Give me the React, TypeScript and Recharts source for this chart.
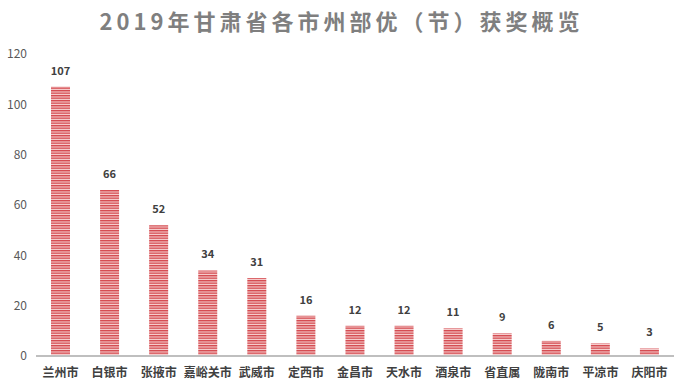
import { BarChart, Bar, XAxis, YAxis, LabelList } from 'recharts'

const cities = ['兰州市', '白银市', '张掖市', '嘉峪关市', '武威市', '定西市', '金昌市', '天水市', '酒泉市', '省直属', '陇南市', '平凉市', '庆阳市']
const awards = [107, 66, 52, 34, 31, 16, 12, 12, 11, 9, 6, 5, 3]
const yTicks = [0, 20, 40, 60, 80, 100, 120]

const data = cities.map((name, i) => ({ name, value: awards[i] }))

export default function App() {
  return (
    <div style={{ position: 'fixed', left: 0, top: 0, width: 683, height: 387, background: '#fff', fontFamily: '"Noto Sans CJK SC", "Noto Sans", sans-serif' }}>
      <div
        style={{
          position: 'absolute',
          left: 0,
          top: 4,
          width: 683,
          textAlign: 'center',
          fontSize: 22,
          fontWeight: 'bold',
          letterSpacing: 4,
          color: '#7f7f7f',
          lineHeight: '32px',
        }}
      >
        2019年甘肃省各市州部优（节）获奖概览
      </div>
      <BarChart width={683} height={387} data={data} margin={{ top: 54, right: 9, bottom: 1, left: 0 }}>
        <defs>
          <pattern id="stripes" width="4" height="2.5" patternUnits="userSpaceOnUse">
            <rect width="4" height="2.5" fill="#f7d4d4" />
            <rect width="4" height="1.4" fill="#d4494f" />
          </pattern>
        </defs>
        <XAxis
          dataKey="name"
          height={30}
          axisLine={{ stroke: '#bfbfbf', strokeWidth: 2 }}
          tickLine={false}
          interval={0}
          tick={{ fill: '#404040', fontSize: 12, fontWeight: 'bold' }}
          tickMargin={6}
        />
        <YAxis
          width={36}
          domain={[0, 120]}
          ticks={yTicks}
          axisLine={false}
          tickLine={false}
          tick={{ fill: '#595959', fontSize: 12 }}
          tickMargin={3}
        />
        <Bar dataKey="value" fill="url(#stripes)" barSize={19} isAnimationActive={false}>
          <LabelList dataKey="value" position="top" offset={12} fill="#404040" fontSize={11} fontWeight="bold" />
        </Bar>
      </BarChart>
    </div>
  )
}
